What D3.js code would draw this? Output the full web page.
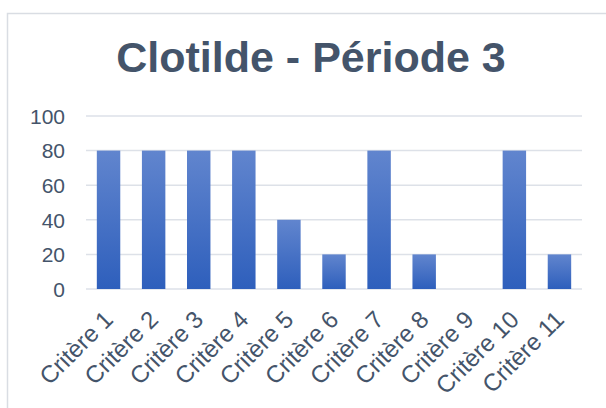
<!DOCTYPE html>
<html>
<head>
  <meta charset="utf-8">
  <style>
    body { margin: 0; background: #fff; }
    .grid line { stroke: #dde1e8; stroke-width: 1.5px; }
    .axis text { font-family: "Liberation Sans", Arial, sans-serif; font-size: 21px; fill: #44546a; }
    .xaxis text { font-size: 24px; }
  </style>
</head>
<body>
  <svg id="chart" width="606" height="408"></svg>
  <script src="https://cdn.jsdelivr.net/npm/d3@7"></script>
  <script>
    var categories = ["Critère 1", "Critère 2", "Critère 3", "Critère 4", "Critère 5", "Critère 6",
      "Critère 7", "Critère 8", "Critère 9", "Critère 10", "Critère 11"];
    var values = [80, 80, 80, 80, 40, 20, 80, 20, 0, 80, 20];
    var yTicks = [0, 20, 40, 60, 80, 100];
    var title = "Clotilde - Période 3";

    var svg = d3.select("#chart");

    // outer chart border
    svg.append("rect")
      .attr("x", 7.5).attr("y", 13.5)
      .attr("width", 620).attr("height", 420)
      .attr("fill", "#fff")
      .attr("stroke", "#d9dde3")
      .attr("stroke-width", 1.5);

    var defs = svg.append("defs");
    var grad = defs.append("linearGradient")
      .attr("id", "barGrad")
      .attr("x1", 0).attr("y1", 0).attr("x2", 0).attr("y2", 1);
    grad.append("stop").attr("offset", "0%").attr("stop-color", "#6185ce");
    grad.append("stop").attr("offset", "100%").attr("stop-color", "#2e5fbc");

    svg.append("text")
      .attr("x", 311).attr("y", 72)
      .attr("text-anchor", "middle")
      .style("font-family", "'Liberation Sans', Arial, sans-serif")
      .style("font-weight", "bold")
      .style("font-size", "43px")
      .attr("fill", "#44546a")
      .text(title);

    var plotLeft = 86, plotRight = 582, plotTop = 116, plotBottom = 289;

    var x = d3.scaleBand().domain(categories).range([plotLeft, plotRight]).paddingInner(0.48).paddingOuter(0.24);
    var y = d3.scaleLinear().domain([0, 100]).range([plotBottom, plotTop]);

    // gridlines
    svg.append("g").attr("class", "grid")
      .selectAll("line").data(yTicks).enter().append("line")
      .attr("x1", plotLeft).attr("x2", plotRight)
      .attr("y1", function (d) { return y(d); })
      .attr("y2", function (d) { return y(d); });

    svg.selectAll(".bar").data(values).enter().append("rect")
      .attr("class", "bar")
      .attr("x", function (d, i) { return x(categories[i]); })
      .attr("width", x.bandwidth())
      .attr("y", function (d) { return y(d); })
      .attr("height", function (d) { return y(0) - y(d); })
      .attr("fill", "url(#barGrad)");

    var yAxis = svg.append("g").attr("class", "axis")
      .attr("transform", "translate(" + (plotLeft - 15) + ",0)")
      .call(d3.axisLeft(y).tickValues(yTicks).tickSize(0).tickPadding(6));
    yAxis.select(".domain").remove();
    yAxis.selectAll("text").attr("dy", "0.35em");

    var xAxis = svg.append("g").attr("class", "axis xaxis")
      .attr("transform", "translate(0," + plotBottom + ")")
      .call(d3.axisBottom(x).tickSize(0));
    xAxis.select(".domain").remove();
    xAxis.selectAll("text")
      .attr("text-anchor", "end")
      .attr("y", 0)
      .attr("dy", 0)
      .attr("transform", "translate(6,32) rotate(-45)");
  </script>
</body>
</html>
